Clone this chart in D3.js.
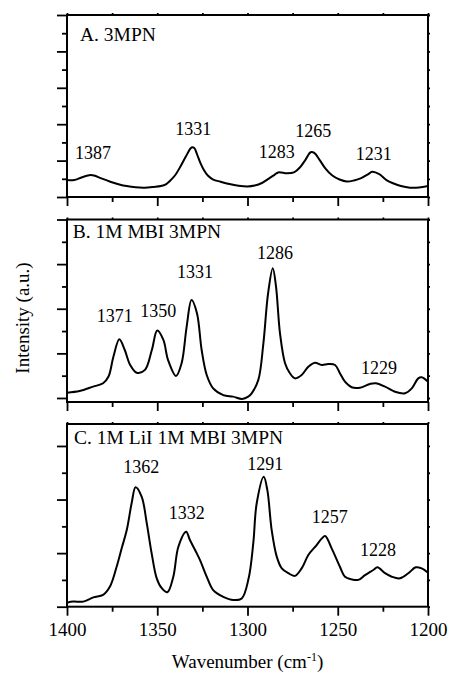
<!DOCTYPE html>
<html>
<head>
<meta charset="utf-8">
<script src="https://cdn.jsdelivr.net/npm/d3@7"></script>
<style>
  body { margin: 0; background: #fff; }
  svg text { font-family: 'Liberation Serif', 'Times New Roman', 'DejaVu Serif', serif; fill: #000; }
</style>
</head>
<body>
<svg id="chart" width="449" height="676"></svg>
<script>
// ---- data ----
const xMajorTicks = [1400, 1350, 1300, 1250, 1200];
const xMinorTicks = [1375, 1325, 1275, 1225];
const xTickLabels = ["1400", "1350", "1300", "1250", "1200"];

const panelTitles = ["A. 3MPN", "B. 1M MBI 3MPN", "C. 1M LiI 1M MBI 3MPN"];

// A. 3MPN
const waveA = [1400,1396,1392,1387,1385,1381,1376,1371,1367,1362,1357,1352,1348,1345,1343,1340,1337,1334,1331,1329.5,1328,1326,1324,1322,1319,1315,1310,1305,1300,1296,1292,1288,1285,1283,1278,1274,1271,1268,1265,1263,1260,1257,1253,1249,1245,1241,1237,1233,1231,1227,1223,1219,1215,1210,1205,1200];
const intA  = [0.93,0.93,1.07,1.21,1.18,1.02,0.84,0.69,0.60,0.53,0.51,0.55,0.60,0.71,0.88,1.21,1.70,2.25,2.72,2.69,2.36,1.85,1.46,1.18,0.96,0.84,0.71,0.62,0.58,0.63,0.77,1.02,1.22,1.35,1.30,1.37,1.62,2.03,2.46,2.42,2.03,1.59,1.18,0.96,0.85,0.91,1.04,1.26,1.39,1.26,0.93,0.74,0.60,0.51,0.52,0.60];
const peaksA = [1387, 1331, 1283, 1265, 1231];

// B. 1M MBI 3MPN
const waveB = [1400,1393,1385.5,1380,1377,1374.3,1371,1368,1365,1361.4,1356.8,1353,1350,1346.6,1344,1339.6,1336.5,1333.7,1331,1328,1325.4,1322.6,1319,1313.4,1308,1303,1299.6,1297.7,1294,1291.2,1288.6,1286,1284.2,1282,1279.2,1276.5,1273.7,1270,1266.3,1262.6,1258.9,1255.2,1251.5,1248.8,1246,1242.3,1237.7,1232.1,1229,1223.8,1218.3,1212.7,1209,1205.4,1203.5,1200];
const intB  = [0.24,0.31,0.51,0.66,0.96,1.85,2.63,2.15,1.48,1.13,1.26,2.15,3.02,2.60,1.70,0.99,1.56,3.20,4.39,3.80,2.15,1.03,0.43,0.13,0.06,-0.04,0.06,0.21,0.81,2.45,4.69,5.82,4.99,2.90,1.56,1.11,0.88,1.03,1.40,1.58,1.48,1.52,1.48,1.11,0.73,0.48,0.46,0.63,0.66,0.51,0.28,0.21,0.43,0.88,0.93,0.73];
const peaksB = [1371, 1350, 1331, 1286, 1229];

// C. 1M LiI 1M MBI 3MPN
const waveC = [1400,1396.5,1391,1385.4,1380,1376.2,1372.5,1369.7,1366.9,1364.2,1362,1358.6,1355.8,1353.1,1350.3,1347.5,1344.4,1341.1,1338.3,1334,1331.9,1328.1,1326.3,1322.6,1319,1313.4,1307.9,1303.2,1299.4,1296.8,1294.9,1291,1289,1286.6,1283.8,1281,1277.4,1273.7,1270,1266.3,1261.7,1258.8,1257,1253,1248.8,1246,1242.3,1238.6,1234.9,1230.3,1228,1223.8,1220.1,1215.5,1210.9,1206.8,1203.5,1200];
const intC  = [0.15,0.19,0.19,0.35,0.44,0.75,1.49,2.18,2.86,3.86,4.46,4.10,3.11,1.99,1.06,0.69,0.54,1.12,2.24,2.80,2.49,1.99,1.74,1.12,0.62,0.37,0.25,0.31,1.05,2.37,3.86,4.85,4.35,2.86,1.87,1.43,1.25,1.15,1.43,1.93,2.30,2.55,2.64,2.12,1.49,1.12,1.02,1.00,1.18,1.37,1.47,1.25,1.12,1.06,1.25,1.47,1.43,1.27];
const peaksC = [1362, 1332, 1291, 1257, 1228];

// ---- layout ----
const FONT = "'Liberation Serif', 'Times New Roman', 'DejaVu Serif', serif";
const svg = d3.select("#chart");
const plotLeft = 67, plotRight = 428;

const x = d3.scaleLinear().domain([1400, 1200]).range([plotLeft, plotRight]);

const panels = [
  { title: panelTitles[0], wave: waveA, inten: intA, peaks: peaksA,
    top: 15, bottom: 197, yDomain: [0, 10], yTicks: d3.range(0, 11),
    titlePos: [80, 40.5],
    labelPos: [[93, 159.3], [193.3, 135], [276.7, 158.3], [313.3, 136.7], [373.8, 160]] },
  { title: panelTitles[1], wave: waveB, inten: intB, peaks: peaksB,
    top: 219.5, bottom: 402, yDomain: [-0.18, 8], yTicks: d3.range(0, 9),
    titlePos: [72.7, 238.3],
    labelPos: [[114.7, 321.7], [158.3, 317.3], [195, 278.3], [275, 259.3], [379, 374]] },
  { title: panelTitles[2], wave: waveC, inten: intC, peaks: peaksC,
    top: 424, bottom: 606.7, yDomain: [0, 6.82], yTicks: d3.range(0, 7),
    titlePos: [74, 444],
    labelPos: [[141.3, 473.3], [186.7, 519.3], [265.3, 470], [329.7, 522.7], [378, 556]] }
];

function styleAxis(g, labelled) {
  g.attr("font-family", FONT).attr("font-size", 19);
  g.select(".domain").remove();
  g.selectAll(".tick line").attr("stroke", "#000").attr("stroke-width", 1.8);
  g.selectAll(".tick text").attr("fill", "#000");
  if (!labelled) g.selectAll(".tick text").remove();
}

panels.forEach((p, i) => {
  const y = d3.scaleLinear().domain(p.yDomain).range([p.bottom, p.top]);
  const g = svg.append("g");
  const isLast = i === panels.length - 1;

  // bottom axis: major and minor ticks
  g.append("g").attr("transform", `translate(0,${p.bottom})`)
    .call(d3.axisBottom(x).tickValues(xMajorTicks).tickSize(9).tickPadding(7)
      .tickFormat((d, k) => xTickLabels[k]))
    .call(a => styleAxis(a, isLast));
  g.append("g").attr("transform", `translate(0,${p.bottom})`)
    .call(d3.axisBottom(x).tickValues(xMinorTicks).tickSize(5))
    .call(a => styleAxis(a, false));

  // top axis: small marks
  g.append("g").attr("transform", `translate(0,${p.top})`)
    .call(d3.axisTop(x).tickValues(xMajorTicks.concat(xMinorTicks)).tickSize(2))
    .call(a => styleAxis(a, false));

  // left axis: alternating long / short ticks
  const majorY = p.yTicks.filter(v => v % 2 === 0);
  const minorY = p.yTicks.filter(v => v % 2 === 1);
  g.append("g").attr("transform", `translate(${plotLeft},0)`)
    .call(d3.axisLeft(y).tickValues(majorY).tickSize(10))
    .call(a => styleAxis(a, false));
  g.append("g").attr("transform", `translate(${plotLeft},0)`)
    .call(d3.axisLeft(y).tickValues(minorY).tickSize(5))
    .call(a => styleAxis(a, false));

  // right axis: small marks
  g.append("g").attr("transform", `translate(${plotRight},0)`)
    .call(d3.axisRight(y).tickValues(p.yTicks).tickSize(2))
    .call(a => styleAxis(a, false));

  // frame
  g.append("rect")
    .attr("x", plotLeft).attr("y", p.top)
    .attr("width", plotRight - plotLeft).attr("height", p.bottom - p.top)
    .attr("fill", "none").attr("stroke", "#000").attr("stroke-width", 2);

  // spectrum
  const pts = p.wave.map((w, k) => [w, p.inten[k]]);
  const line = d3.line()
    .x(d => x(d[0])).y(d => y(d[1]))
    .curve(d3.curveCatmullRom.alpha(0.5));
  g.append("path").datum(pts)
    .attr("d", line)
    .attr("fill", "none").attr("stroke", "#000")
    .attr("stroke-width", 2).attr("stroke-linejoin", "round");

  // panel title
  g.append("text")
    .attr("x", p.titlePos[0]).attr("y", p.titlePos[1])
    .attr("font-family", FONT).attr("font-size", 19.5)
    .text(p.title);

  // peak labels
  g.selectAll(".peak").data(p.peaks).join("text")
    .attr("class", "peak")
    .attr("x", (d, k) => p.labelPos[k][0])
    .attr("y", (d, k) => p.labelPos[k][1])
    .attr("text-anchor", "middle")
    .attr("font-family", FONT).attr("font-size", 18)
    .text(d => d);
});

// axis titles
svg.append("text")
  .attr("transform", "translate(28.5,318) rotate(-90)")
  .attr("text-anchor", "middle")
  .attr("font-family", FONT).attr("font-size", 19)
  .text("Intensity (a.u.)");

const xt = svg.append("text")
  .attr("x", (plotLeft + plotRight) / 2).attr("y", 668)
  .attr("text-anchor", "middle")
  .attr("font-family", FONT).attr("font-size", 19);
xt.append("tspan").text("Wavenumber (cm");
xt.append("tspan").attr("dy", -7).attr("font-size", 12).text("-1");
xt.append("tspan").attr("dy", 7).text(")");
</script>
</body>
</html>
